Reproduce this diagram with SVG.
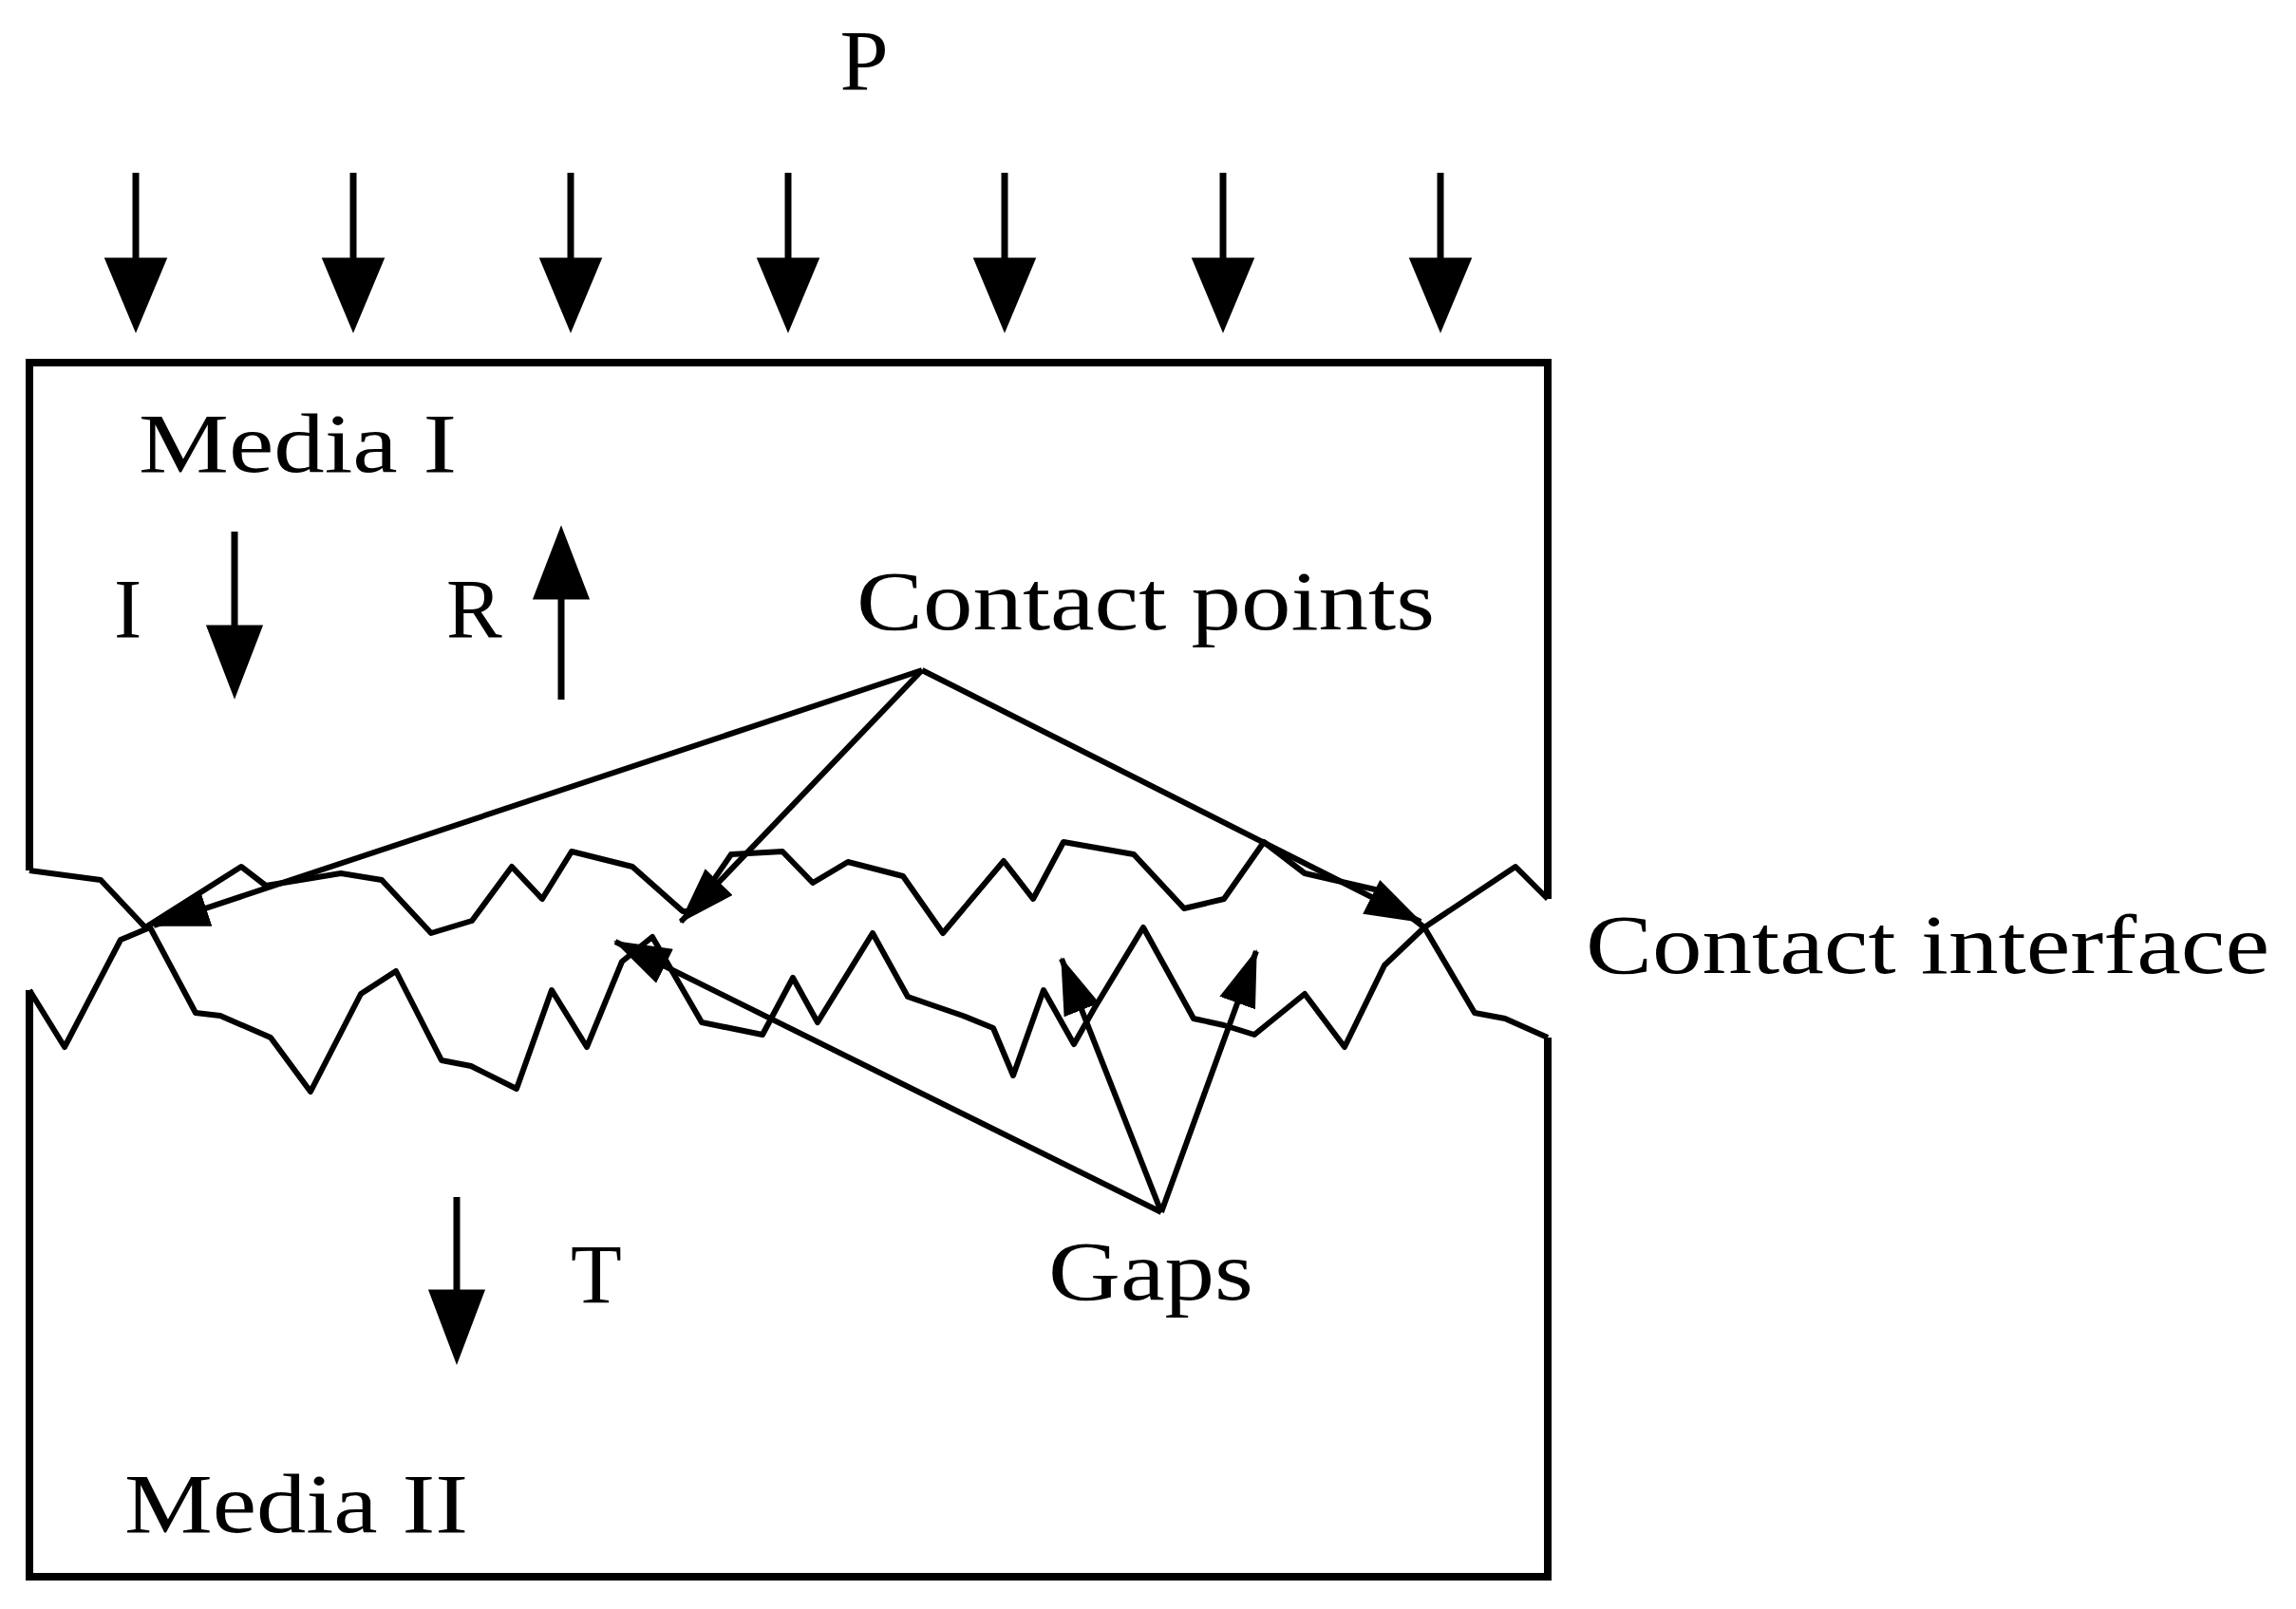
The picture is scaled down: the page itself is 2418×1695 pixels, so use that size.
<svg xmlns="http://www.w3.org/2000/svg" width="2418" height="1695" viewBox="0 0 2418 1695">
<style>
text{font-family:"Liberation Serif","Times New Roman",serif;fill:#000}
.ln{stroke:#000;stroke-width:6;fill:none;stroke-linejoin:round}
.bx{stroke:#000;stroke-width:8;fill:none}
</style>
<defs>
<marker id="ah" viewBox="0 0 60 40" refX="58" refY="20" markerWidth="60" markerHeight="40" markerUnits="userSpaceOnUse" orient="auto">
<path d="M0,0 L60,20 L0,40 z" fill="#000"/>
</marker>
</defs>
<rect width="2418" height="1695" fill="#fff"/>
<g id="media">
<path class="bx" d="M31,917 V382 H1630 V947 M31,1043 V1661 H1630 V1093"/>
<path class="ln" d="M31,917 L106,927 L153,977 L254,913 L280,933 L359,920 L402,927 L454,983 L497,970 L539,913 L571,947 L602,897 L666,913 L719,960 L729,960 L770,900 L824,897 L856,930 L893,908 L951,923 L993,983 L1057,907 L1088,947 L1120,887 L1194,900 L1247,957 L1289,947 L1331,887 L1374,920 L1448,937 L1500,977 L1596,913 L1630,947"/>
<path class="ln" d="M31,1043 L68,1103 L127,990 L158,977 L206,1067 L232,1070 L285,1093 L327,1150 L380,1047 L417,1023 L465,1117 L496,1123 L544,1147 L581,1043 L618,1103 L655,1013 L687,987 L739,1077 L803,1090 L835,1030 L861,1077 L919,983 L956,1050 L1014,1070 L1046,1083 L1067,1133 L1099,1043 L1131,1100 L1152,1063 L1204,977 L1257,1073 L1289,1080 L1321,1090 L1374,1047 L1416,1103 L1458,1017 L1500,977 L1553,1067 L1585,1073 L1630,1093"/>
</g>
<g id="loads" stroke="#000" stroke-width="7">
<line x1="143" y1="182" x2="143" y2="300"/><polygon points="115,275 171,275 143,342"/>
<line x1="372" y1="182" x2="372" y2="300"/><polygon points="344,275 400,275 372,342"/>
<line x1="601" y1="182" x2="601" y2="300"/><polygon points="573,275 629,275 601,342"/>
<line x1="830" y1="182" x2="830" y2="300"/><polygon points="802,275 858,275 830,342"/>
<line x1="1058" y1="182" x2="1058" y2="300"/><polygon points="1030,275 1086,275 1058,342"/>
<line x1="1288" y1="182" x2="1288" y2="300"/><polygon points="1260,275 1316,275 1288,342"/>
<line x1="1517" y1="182" x2="1517" y2="300"/><polygon points="1489,275 1545,275 1517,342"/>
</g>
<g id="waves" stroke="#000" stroke-width="7">
<line x1="247" y1="560" x2="247" y2="680"/><polygon points="222,662 272,662 247,727"/>
<line x1="591" y1="737" x2="591" y2="620"/><polygon points="566,628 616,628 591,563"/>
<line x1="481" y1="1261" x2="481" y2="1380"/><polygon points="456,1362 506,1362 481,1428"/>
</g>
<g id="connectors">
<line class="ln" x1="971" y1="706" x2="162" y2="975" marker-end="url(#ah)"/>
<line class="ln" x1="971" y1="706" x2="717" y2="971" marker-end="url(#ah)"/>
<line class="ln" x1="971" y1="706" x2="1496" y2="971" marker-end="url(#ah)"/>
<line class="ln" x1="1223" y1="1277" x2="648" y2="992" marker-end="url(#ah)"/>
<line class="ln" x1="1223" y1="1277" x2="1118" y2="1010" marker-end="url(#ah)"/>
<line class="ln" x1="1223" y1="1277" x2="1323" y2="1002" marker-end="url(#ah)"/>
</g>
<g id="labels" font-size="88">
<text x="910" y="95" text-anchor="middle" font-size="92">P</text>
<text x="146" y="497" textLength="335" lengthAdjust="spacingAndGlyphs">Media I</text>
<text x="120" y="671">I</text>
<text x="470" y="671">R</text>
<text x="902" y="663" textLength="609" lengthAdjust="spacingAndGlyphs">Contact points</text>
<text x="1670" y="1025" textLength="720" lengthAdjust="spacingAndGlyphs">Contact interface</text>
<text x="601" y="1372">T</text>
<text x="1104" y="1369" textLength="216" lengthAdjust="spacingAndGlyphs">Gaps</text>
<text x="131" y="1614" textLength="362" lengthAdjust="spacingAndGlyphs">Media II</text>
</g>
</svg>
